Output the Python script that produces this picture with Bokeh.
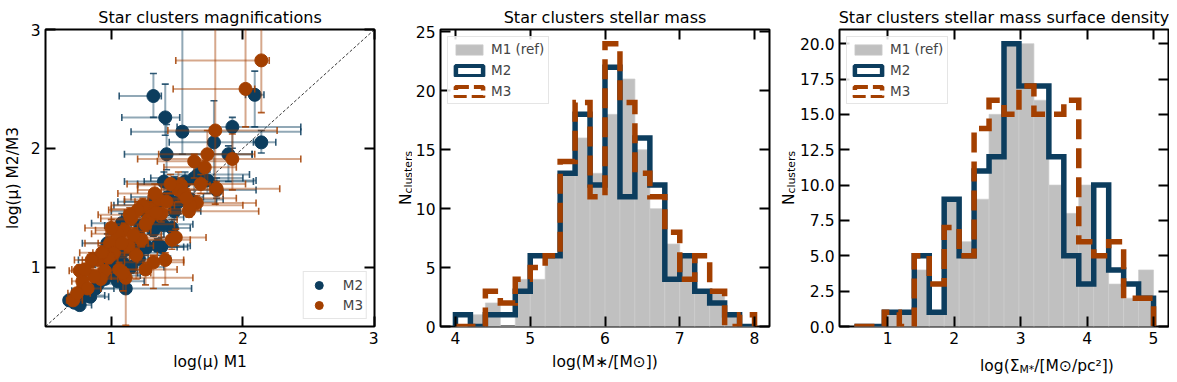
import numpy as np
from bokeh.plotting import figure
from bokeh.models import (ColumnDataSource, FixedTicker, Label, LinearAxis, Legend,
                          LegendItem, PrintfTickFormatter, Range1d)
from bokeh.layouts import row, column
from bokeh.embed import file_html
from bokeh.resources import INLINE

FONT = "DejaVu Sans"
BLUE = "#0c3d5e"
ORANGE = "#a33f00"
GRAY = "#c0c0c0"

# ---------------- Panel 1 data: log magnifications (value, lower, upper) ----------------
m2_x   = [1.32,1.41,1.54,1.42,1.78,1.92,2.09,2.14,1.89,1.80,1.73,1.63,1.40,1.51,1.30,1.46,1.38,1.25,1.08,0.97,
          1.11,0.76,0.81,0.68,0.90,1.03,1.15,0.86,1.20,1.43,1.56,0.93,1.00,1.18,0.78,1.05,1.33,1.22,0.72,1.48,
          0.88,0.95,1.10,1.27,1.35,1.32,1.18,1.12,0.98,1.26,1.48,1.36,0.84,1.02,1.21,1.60,1.66,0.74,1.07,1.39]
m2_y   = [2.44,2.26,2.14,1.95,2.05,2.18,2.45,2.05,1.95,1.65,1.73,1.75,1.72,1.55,1.52,1.33,1.17,1.17,1.37,1.20,
          0.82,0.68,0.76,0.72,0.86,0.95,1.00,1.06,1.28,1.59,1.72,0.92,1.05,1.12,0.80,0.88,1.42,1.35,0.70,1.47,
          0.82,0.90,1.02,1.17,1.18,1.31,1.22,1.15,1.02,1.47,1.70,1.55,0.75,0.93,1.07,1.57,1.78,0.74,1.10,1.36]
m2_xlo = [1.06,1.08,1.15,1.10,1.44,1.50,2.02,2.08,1.45,1.55,1.42,1.30,1.10,1.05,1.02,1.25,1.10,1.00,0.85,0.78,
          0.75,0.70,0.72,0.64,0.75,0.85,0.95,0.75,1.00,1.15,1.25,0.78,0.85,1.00,0.70,0.90,1.08,0.95,0.66,1.20,
          0.76,0.80,0.92,1.05,1.12,1.08,0.98,0.92,0.82,1.00,1.20,1.10,0.74,0.86,1.02,1.35,1.40,0.68,0.90,1.15]
m2_xhi = [1.38,1.52,2.44,2.07,2.16,2.44,2.16,2.25,2.07,2.10,2.10,2.00,1.78,1.80,1.62,1.60,1.58,1.50,1.30,1.20,
          1.61,0.85,0.95,0.75,1.05,1.20,1.40,1.00,1.40,1.70,2.08,1.12,1.18,1.40,0.90,1.25,1.55,1.45,0.80,1.68,
          1.02,1.12,1.30,1.55,1.60,1.50,1.38,1.30,1.15,1.45,1.80,1.60,0.98,1.22,1.45,1.85,2.05,0.82,1.28,1.62]
m2_ylo = [2.26,2.11,1.95,1.82,1.72,2.00,2.18,1.96,1.72,1.58,1.62,1.60,1.55,1.45,1.45,1.25,1.10,1.10,1.30,1.12,
          0.78,0.65,0.72,0.69,0.82,0.90,0.95,1.00,1.22,1.52,1.65,0.88,1.00,1.07,0.76,0.84,1.36,1.29,0.67,1.40,
          0.78,0.86,0.97,1.12,1.13,1.26,1.17,1.10,0.98,1.42,1.64,1.50,0.71,0.89,1.02,1.52,1.72,0.71,1.05,1.30]
m2_yhi = [2.63,2.54,3.20,2.20,2.40,2.26,2.65,2.15,2.02,1.75,1.80,1.85,1.80,1.62,1.58,1.40,1.25,1.22,1.45,1.28,
          0.88,0.72,0.80,0.76,0.92,1.00,1.05,1.12,1.35,1.66,1.80,0.97,1.12,1.18,0.84,0.93,1.48,1.40,0.73,1.53,
          0.86,0.94,1.07,1.22,1.24,1.36,1.27,1.20,1.07,1.52,1.76,1.60,0.79,0.97,1.12,1.62,1.84,0.77,1.15,1.42]

m3_x   = [2.14,2.02,1.79,1.92,1.73,1.63,1.71,1.80,1.65,1.59,1.46,1.41,1.32,1.53,1.30,1.15,1.10,0.99,0.90,0.78,
          0.71,0.76,1.11,1.23,1.38,1.51,1.05,0.85,0.95,1.28,1.06,1.19,0.82,1.36,1.24,1.45,1.02,1.13,1.60,0.92,
          0.87,0.98,1.08,1.17,1.26,1.34,1.42,1.55,1.68,1.20,1.00,0.93,0.80,1.14,1.33,1.26,1.49,0.74,1.57,1.09]
m3_y   = [2.74,2.50,2.15,1.91,1.95,1.89,1.84,1.66,1.54,1.47,1.23,1.06,1.04,1.69,1.49,1.41,1.31,1.20,1.06,0.88,
          0.72,0.97,0.91,1.23,1.45,1.65,1.28,1.06,0.97,1.40,0.98,1.10,0.82,1.57,1.52,1.70,1.12,1.18,1.52,0.90,
          0.92,1.08,1.20,1.27,1.36,1.46,1.55,1.62,1.70,1.48,1.33,1.12,0.98,1.44,1.62,0.98,1.25,0.78,1.58,0.95]
m3_xlo = [1.49,1.47,1.43,1.20,1.36,1.35,1.40,1.38,1.45,1.40,1.25,1.20,1.10,1.20,1.00,0.92,0.88,0.80,0.78,0.70,
          0.66,0.68,0.80,1.00,1.10,1.20,0.85,0.72,0.80,1.00,0.86,0.98,0.74,1.10,1.00,1.12,0.86,0.95,1.30,0.78,
          0.76,0.82,0.90,0.96,1.03,1.10,1.18,1.30,1.42,0.98,0.80,0.76,0.70,0.90,1.05,1.05,1.25,0.67,1.28,0.92]
m3_xhi = [2.20,2.09,2.26,2.44,2.09,1.90,1.95,2.28,2.10,2.12,1.60,1.55,1.55,1.75,1.55,1.35,1.30,1.20,1.05,0.90,
          0.78,0.90,1.62,1.45,1.60,1.75,1.25,0.98,1.10,1.50,1.30,1.35,0.92,1.58,1.48,1.70,1.20,1.32,2.00,1.05,
          1.00,1.14,1.28,1.38,1.48,1.58,1.66,1.85,2.02,1.45,1.20,1.10,0.93,1.40,1.60,1.50,1.72,0.84,1.95,1.30]
m3_ylo = [2.30,2.18,1.53,1.65,1.70,1.75,1.72,1.60,1.48,1.42,1.15,0.85,0.82,1.60,1.42,1.35,1.25,1.15,1.02,0.84,
          0.69,0.92,0.51,1.17,1.38,1.55,1.22,1.00,0.92,1.33,0.93,0.90,0.78,1.50,1.46,1.62,1.07,1.12,1.45,0.86,
          0.88,1.03,1.15,1.22,1.30,1.40,1.48,1.55,1.62,1.42,1.27,1.06,0.93,1.38,1.55,0.85,1.18,0.74,1.50,0.80]
m3_yhi = [3.20,3.20,3.20,2.12,2.15,1.95,1.90,1.72,1.60,1.52,1.30,1.12,1.10,1.75,1.55,1.47,1.37,1.26,1.10,0.92,
          0.75,1.02,0.98,1.30,1.52,1.80,1.34,1.12,1.02,1.46,1.04,1.16,0.86,1.63,1.58,1.78,1.18,1.24,1.58,0.94,
          0.97,1.13,1.25,1.33,1.42,1.52,1.62,1.70,1.78,1.55,1.40,1.18,1.03,1.50,1.70,1.04,1.32,0.82,1.66,1.00]

one_to_one = [0.5, 3.0]

# ---------------- Panel 2 data: stellar mass histograms ----------------
mass_edges = [4.0, 4.2, 4.4, 4.6, 4.8, 5.0, 5.2, 5.4, 5.6, 5.8, 6.0,
              6.2, 6.4, 6.6, 6.8, 7.0, 7.2, 7.4, 7.6, 7.8, 8.0]
mass_m1 = [0, 1, 2, 0, 4, 4, 6, 13, 16, 13, 18, 21, 15, 10, 7, 6, 3, 3, 1, 0]
mass_m2 = [1, 0, 1, 1, 3, 6, 6, 13, 18, 12, 22, 11, 16, 12, 4, 6, 3, 2, 1, 0]
mass_m3 = [0, 0, 3, 2, 4, 5, 6, 14, 19, 11, 24, 19, 13, 11, 8, 4, 6, 3, 0, 1]

# ---------------- Panel 3 data: stellar mass surface density histograms ----------------
dens_edges = [0.5, 0.725, 0.95, 1.175, 1.4, 1.625, 1.85, 2.075, 2.3, 2.525, 2.75,
              2.975, 3.2, 3.425, 3.65, 3.875, 4.1, 4.325, 4.55, 4.775, 5.0]
dens_m1 = [0, 0, 1, 1, 4, 1, 9, 6, 9, 15, 20, 20, 16, 10, 8, 10, 5, 3, 2, 4]
dens_m2 = [0, 0, 1, 1, 5, 1, 9, 5, 11, 12, 20, 17, 17, 12, 5, 3, 10, 4, 3, 2]
dens_m3 = [0, 0, 1, 0, 5, 3, 7, 5, 14, 16, 15, 17, 15, 15, 16, 6, 5, 6, 2, 2]

TOP = 29
BOTTOM = 45


def base_fig(title, xr, yr, xticks, yticks, left, right, fw, bottom=BOTTOM):
    p = figure(frame_width=fw, frame_height=297,
               x_range=Range1d(*xr), y_range=Range1d(*yr),
               output_backend="svg", toolbar_location=None,
               min_border_left=left, min_border_right=right,
               min_border_top=TOP, min_border_bottom=bottom)
    p.title.text = title
    p.title.align = "center"
    p.title.text_font = FONT
    p.title.text_font_size = "16px"
    p.title.text_font_style = "normal"
    p.title.text_color = "black"
    p.title.standoff = 6
    p.xgrid.visible = False
    p.ygrid.visible = False
    p.outline_line_color = "black"
    p.outline_line_width = 2
    p.outline_line_alpha = 1
    bx = p.below[0]
    ly = p.left[0]
    top = LinearAxis()
    rgt = LinearAxis()
    p.add_layout(top, "above")
    p.add_layout(rgt, "right")
    for ax in (bx, top):
        ax.ticker = FixedTicker(ticks=xticks)
    for ax in (ly, rgt):
        ax.ticker = FixedTicker(ticks=yticks)
    for ax in (bx, ly, top, rgt):
        ax.axis_line_color = None
        ax.major_tick_in = 10
        ax.major_tick_out = 0
        ax.major_tick_line_width = 2
        ax.major_tick_line_color = "black"
        ax.minor_tick_line_color = None
        ax.major_label_text_font = FONT
        ax.major_label_text_font_size = "15.5px"
        ax.major_label_text_color = "black"
        ax.major_label_standoff = 5
        ax.axis_label_text_font = FONT
        ax.axis_label_text_font_size = "15.5px"
        ax.axis_label_text_font_style = "normal"
        ax.axis_label_text_color = "black"
        ax.axis_label_standoff = 6
    for ax in (top, rgt):
        ax.major_label_text_font_size = "0px"
        ax.major_label_text_color = None
        ax.major_label_standoff = 0
    return p, bx, ly


# ---------------- Panel 1 ----------------
p1, bx1, ly1 = base_fig("Star clusters magnifications", (0.5, 3.0), (0.5, 3.0),
                        [1, 2, 3], [1, 2, 3], 39, 4, 329)
bx1.axis_label = "log(μ) M1"
ly1.axis_label = "log(μ) M2/M3"

p1.line(one_to_one, one_to_one, line_color="black", line_width=0.8, line_dash="3 2")


def series(p, xs, ys, xlo, xhi, ylo, yhi, color):
    src = ColumnDataSource(dict(x=xs, y=ys, xlo=xlo, xhi=xhi, ylo=ylo, yhi=yhi))
    p.segment(x0="xlo", x1="xhi", y0="y", y1="y", source=src,
              line_color=color, line_alpha=0.45, line_width=2)
    p.segment(x0="x", x1="x", y0="ylo", y1="yhi", source=src,
              line_color=color, line_alpha=0.45, line_width=2)
    for cx, cy, ang in (("xlo", "y", np.pi / 2), ("xhi", "y", np.pi / 2),
                        ("x", "ylo", 0.0), ("x", "yhi", 0.0)):
        p.scatter(x=cx, y=cy, source=src, marker="dash", angle=ang, size=7,
                  line_color=color, line_alpha=0.85, line_width=1.6)
    r = p.scatter(x="x", y="y", source=src, marker="circle", size=13,
                  fill_color=color, line_color=color)
    return r


r_m2 = series(p1, m2_x, m2_y, m2_xlo, m2_xhi, m2_ylo, m2_yhi, BLUE)
r_m3 = series(p1, m3_x, m3_y, m3_xlo, m3_xhi, m3_ylo, m3_yhi, ORANGE)

leg1 = Legend(items=[LegendItem(label="M2", renderers=[r_m2]),
                     LegendItem(label="M3", renderers=[r_m3])],
              location="bottom_right", margin=7, padding=3, spacing=0,
              glyph_width=24, glyph_height=20, label_height=20, label_standoff=12,
              label_text_font=FONT, label_text_font_size="13.5px",
              border_line_color="#cccccc", border_line_width=1,
              background_fill_color="white", background_fill_alpha=0.85)
p1.add_layout(leg1)


# ---------------- Histogram panels ----------------
def step_xy(edges, counts):
    xs = [edges[0]]
    ys = [0]
    for i, c in enumerate(counts):
        xs += [edges[i], edges[i + 1]]
        ys += [c, c]
    xs.append(edges[-1])
    ys.append(0)
    return xs, ys


NAN = [float("nan")]


def hist_panel(title, edges, m1, m2, m3, xr, yr, xticks, yticks, left, right, fw, bottom=BOTTOM):
    p, bx, ly = base_fig(title, xr, yr, xticks, yticks, left, right, fw, bottom)
    src = ColumnDataSource(dict(left=edges[:-1], right=edges[1:], top=m1))
    r1 = p.quad(left="left", right="right", bottom=0, top="top", source=src,
                fill_color=GRAY, line_color="#cdcdcd", line_width=0.7)
    x2, y2 = step_xy(edges, m2)
    p.line(x2, y2, line_color=BLUE, line_width=5.5, line_join="miter")
    x3, y3 = step_xy(edges, m3)
    p.line(x3, y3, line_color=ORANGE, line_width=5.5, line_join="miter", line_dash="20 9")
    # legend-only outline boxes (no visible data)
    d2 = p.quad(left=NAN, right=NAN, top=NAN, bottom=NAN, fill_alpha=0,
                line_color=BLUE, line_width=4.5)
    d3 = p.quad(left=NAN, right=NAN, top=NAN, bottom=NAN, fill_alpha=0,
                line_color=ORANGE, line_width=4.5, line_dash="13 5")
    leg = Legend(items=[LegendItem(label="M1 (ref)", renderers=[r1]),
                        LegendItem(label="M2", renderers=[d2]),
                        LegendItem(label="M3", renderers=[d3])],
                 location="top_left", margin=7, padding=4, spacing=5,
                 glyph_width=34, glyph_height=13, label_height=14, label_standoff=5,
                 label_text_font=FONT, label_text_font_size="13.5px",
                 border_line_color="#cccccc", border_line_width=1,
                 background_fill_color="white", background_fill_alpha=0.85)
    p.add_layout(leg)
    return p, bx, ly


def label_fig(w, yr):
    # narrow companion figure whose frame matches the histogram frame vertically
    f = figure(frame_width=w, frame_height=297, output_backend="svg", toolbar_location=None,
               x_axis_location=None, y_axis_location=None, title=None,
               x_range=Range1d(0, 1), y_range=yr,
               min_border_left=0, min_border_right=0,
               min_border_top=TOP, min_border_bottom=BOTTOM)
    f.outline_line_color = None
    f.xgrid.visible = False
    f.ygrid.visible = False
    return f


def n_clusters_fig(w, xpos, yr):
    f = label_fig(w, yr)
    f.add_layout(Label(x=xpos, y=121.4, x_units="screen", y_units="screen", text="N",
                       angle=np.pi / 2, text_font=FONT, text_font_size="15.5px",
                       text_align="left", text_baseline="alphabetic", text_color="black"))
    f.add_layout(Label(x=xpos + 3, y=133.0, x_units="screen", y_units="screen", text="clusters",
                       angle=np.pi / 2, text_font=FONT, text_font_size="10.85px",
                       text_align="left", text_baseline="alphabetic", text_color="black"))
    return f


p2, bx2, ly2 = hist_panel("Star clusters stellar mass", mass_edges, mass_m1, mass_m2, mass_m3,
                          (3.8, 8.2), (0, 25.2), [4, 5, 6, 7, 8], [0, 5, 10, 15, 20, 25],
                          28, 2, 329)
bx2.axis_label = "log(M∗/[M⊙])"
lf2 = n_clusters_fig(34, 27, p2.y_range)

p3, bx3, ly3 = hist_panel("Star clusters stellar mass surface density", dens_edges,
                          dens_m1, dens_m2, dens_m3,
                          (0.275, 5.225), (0, 21.0), [1, 2, 3, 4, 5],
                          [0, 2.5, 5, 7.5, 10, 12.5, 15, 17.5, 20], 40, 1, 329, bottom=24)
ly3.formatter = PrintfTickFormatter(format="%.1f")
lf3 = n_clusters_fig(25, 17, p3.y_range)

xf3 = figure(width=370, height=24, output_backend="svg", toolbar_location=None,
             x_axis_location=None, y_axis_location=None, title=None,
             x_range=Range1d(0, 1), y_range=Range1d(0, 1), min_border=0)
xf3.outline_line_color = None
xf3.xgrid.visible = False
xf3.ygrid.visible = False
x0 = 40 + 100.5
for txt, dx, dy, fs in (("log(Σ", 0.0, 9, "15.5px"),
                        ("M*", 39.5, 5.5, "10.85px"),
                        ("/[M⊙/pc²])", 54.3, 9, "15.5px")):
    xf3.add_layout(Label(x=x0 + dx, y=dy, x_units="screen", y_units="screen", text=txt,
                         text_font=FONT, text_font_size=fs, text_align="left",
                         text_baseline="alphabetic", text_color="black"))

layout = row(p1, lf2, p2, lf3, column(p3, xf3))
open("out.html", "w").write(file_html(layout, INLINE))
